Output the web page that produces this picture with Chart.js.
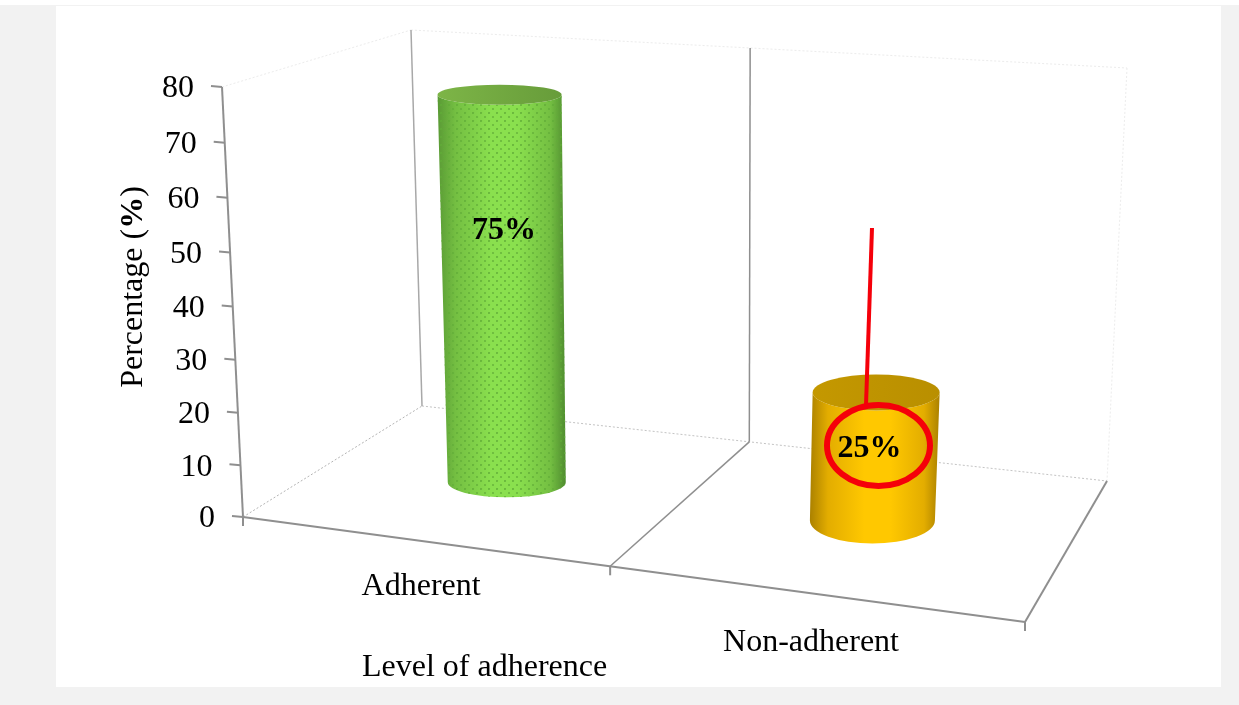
<!DOCTYPE html>
<html lang="en">
<head>
<meta charset="UTF-8">
<title>Level of adherence</title>
<script src="https://cdn.jsdelivr.net/npm/chart.js@4"></script>
<style>
  html, body { margin: 0; padding: 0; background: #fff; }
  canvas { display: block; }
</style>
</head>
<body>
<canvas id="chart" width="1239" height="705"></canvas>
<script>
'use strict';

// ---- data ----
const categories = ['Adherent', 'Non-adherent'];
const percentages = [75, 25];
const yMin = 0;
const yMax = 80;
const yStep = 10;
const xTitle = 'Level of adherence';

// ---- look ----
const FONT = '"Liberation Serif", "Times New Roman", serif';
const FONT_SIZE = 32;
const AXIS_GREY = '#8f8f8f';

// Corners of the 3D box on the canvas (f = front, b = back, l/r, bottom/top)
const BOX = {
  flb: [243, 517], frb: [1025, 622], blb: [422, 406], brb: [1107, 481],
  flt: [222, 87],  frt: [1055, 102], blt: [411, 30],  brt: [1127, 68]
};

// Per bar drawing style: depth in the box, nudges, radii of the ellipses
const CYL = [
  { depth: 0.5,  dx: 5,  dyTop: 3, rxTop: 62,   ryTop: 10, rxBase: 59,   ryBase: 15, labelAt: 0.652, labelDx: 2,
    side: ['#5a9a35', '#74bf42', '#8ae04e', '#8ae04e', '#74bf42', '#4f8c2f'], capL: '#7db547', capR: '#679c3a', dots: '#62ad38' },
  { depth: 0.55, dx: -1, dyTop: 7, rxTop: 63.5, ryTop: 18, rxBase: 62.5, ryBase: 23, labelAt: 0.556, labelDx: -5,
    side: ['#ab8100', '#e3ad00', '#ffc800', '#ffc800', '#e3ad00', '#ab8100'], capL: '#c49800', capR: '#b98f00', dots: null }
];

function lerp(a, b, t) { return a + (b - a) * t; }
function mix(p, q, t) { return [lerp(p[0], q[0], t), lerp(p[1], q[1], t)]; }

// slight perspective squeeze along an axis
function warp(t, a) { return a * t / (1 + (a - 1) * t); }

// u: along the x axis, v: up the value axis, w: into the box (all 0..1)
function project(u, v, w) {
  const uu = warp(u, lerp(0.885, 0.915, w) - 0.015 * v * w);
  const vv = warp(v, 0.96);
  const bottom = mix(mix(BOX.flb, BOX.frb, uu), mix(BOX.blb, BOX.brb, uu), w);
  const top = mix(mix(BOX.flt, BOX.frt, uu), mix(BOX.blt, BOX.brt, uu), w);
  return mix(bottom, top, vv);
}

function line(ctx, a, b, color, width, dash) {
  ctx.save();
  ctx.strokeStyle = color;
  ctx.lineWidth = width;
  ctx.setLineDash(dash || []);
  ctx.beginPath();
  ctx.moveTo(a[0], a[1]);
  ctx.lineTo(b[0], b[1]);
  ctx.stroke();
  ctx.restore();
}

function dotPattern(ctx, color) {
  const c = document.createElement('canvas');
  c.width = 8;
  c.height = 8;
  const g = c.getContext('2d');
  g.fillStyle = color;
  g.globalAlpha = 0.8;
  [[1, 1], [5, 5]].forEach(p => {
    g.beginPath();
    g.arc(p[0], p[1], 1.1, 0, Math.PI * 2);
    g.fill();
  });
  return ctx.createPattern(c, 'repeat');
}

// ---- background panel, walls and floor ----
const boxPlugin = {
  id: 'box3d',
  beforeDatasetsDraw(chart) {
    const ctx = chart.ctx;
    const W = chart.width;
    const H = chart.height;
    ctx.save();
    ctx.fillStyle = '#f2f2f2';
    ctx.fillRect(0, 5, W, H - 5);
    ctx.fillStyle = '#ffffff';
    ctx.fillRect(56, 6, 1165, 681);
    ctx.restore();

    const faint = '#ececec';
    const dot = [2, 2];
    // top edges and far right post are barely visible
    line(ctx, project(0, 1, 0), project(0, 1, 1), faint, 1, dot);
    line(ctx, project(0, 1, 1), project(1, 1, 1), faint, 1, dot);
    line(ctx, project(1, 1, 1), project(1, 0, 1), faint, 1, dot);
    // back floor line and left floor edge
    line(ctx, project(0, 0, 1), project(1, 0, 1), '#c4c4c4', 1, dot);
    line(ctx, project(0, 0, 0), project(0, 0, 1), '#b4b4b4', 1, dot);
    // back wall posts
    line(ctx, project(0, 0, 1), project(0, 1, 1), '#a8a8a8', 1.5);
    line(ctx, project(0.5, 0, 1), project(0.5, 1, 1), '#8f8f8f', 1.5);
    // floor
    line(ctx, project(0.5, 0, 0), project(0.5, 0, 1), AXIS_GREY, 1.5);
    line(ctx, project(1, 0, 0), project(1, 0, 1), AXIS_GREY, 2);
    line(ctx, project(0, 0, 0), project(1, 0, 0), AXIS_GREY, 2);
    // value axis
    line(ctx, project(0, 0, 0), project(0, 1, 0), AXIS_GREY, 2);

    // axis ticks and their labels come from the chart's own scale
    const yScale = chart.scales.y;
    ctx.save();
    ctx.font = FONT_SIZE + 'px ' + FONT;
    ctx.fillStyle = '#000';
    ctx.textAlign = 'right';
    ctx.textBaseline = 'middle';
    yScale.ticks.forEach(t => {
      const v = (yScale.bottom - yScale.getPixelForValue(t.value)) / yScale.height;
      const p = project(0, v, 0);
      line(ctx, [p[0] - 11, p[1] - 1], p, AXIS_GREY, 2);
      ctx.fillText(t.label, p[0] - 28, p[1] + 2);
    });
    ctx.restore();

    [0, 0.5, 1].forEach(u => {
      const p = project(u, 0, 0);
      line(ctx, p, [p[0], p[1] + 9], AXIS_GREY, 2);
    });
  }
};

// ---- cylinders, drawn from the bar elements Chart.js laid out ----
const cylinderPlugin = {
  id: 'cylinders',
  afterDatasetsDraw(chart) {
    const ctx = chart.ctx;
    const xScale = chart.scales.x;
    const yScale = chart.scales.y;
    const bars = chart.getDatasetMeta(0).data;

    bars.forEach((bar, i) => {
      const st = CYL[i];
      const u = (bar.x - xScale.left) / xScale.width;
      const v = (yScale.bottom - bar.y) / yScale.height;
      const base = project(u, 0, st.depth);
      const top = project(u, v, st.depth);
      base[0] += st.dx;
      top[0] += st.dx;
      top[1] += st.dyTop;

      const left = Math.min(base[0] - st.rxBase, top[0] - st.rxTop);
      const right = Math.max(base[0] + st.rxBase, top[0] + st.rxTop);
      const grad = ctx.createLinearGradient(left, 0, right, 0);
      [0, 0.14, 0.42, 0.62, 0.88, 1].forEach((s, k) => grad.addColorStop(s, st.side[k]));

      const body = () => {
        ctx.beginPath();
        ctx.moveTo(top[0] - st.rxTop, top[1]);
        ctx.lineTo(base[0] - st.rxBase, base[1]);
        ctx.ellipse(base[0], base[1], st.rxBase, st.ryBase, 0, Math.PI, 0, true);
        ctx.lineTo(top[0] + st.rxTop, top[1]);
        ctx.ellipse(top[0], top[1], st.rxTop, st.ryTop, 0, 0, Math.PI, false);
        ctx.closePath();
      };

      ctx.save();
      body();
      ctx.fillStyle = grad;
      ctx.fill();
      if (st.dots) {
        ctx.fillStyle = dotPattern(ctx, st.dots);
        ctx.fill();
      }
      const capGrad = ctx.createLinearGradient(top[0] - st.rxTop, 0, top[0] + st.rxTop, 0);
      capGrad.addColorStop(0, st.capL);
      capGrad.addColorStop(1, st.capR);
      ctx.beginPath();
      ctx.ellipse(top[0], top[1], st.rxTop, st.ryTop, 0, 0, Math.PI * 2);
      ctx.fillStyle = capGrad;
      ctx.fill();
      ctx.restore();
    });
  }
};

// ---- texts and the hand drawn red marker ----
const textPlugin = {
  id: 'texts',
  afterDraw(chart) {
    const ctx = chart.ctx;
    const xScale = chart.scales.x;
    const yScale = chart.scales.y;
    const bars = chart.getDatasetMeta(0).data;

    // red marker on the second bar
    ctx.save();
    ctx.strokeStyle = '#f5000a';
    ctx.lineWidth = 4;
    ctx.beginPath();
    ctx.moveTo(872, 228);
    ctx.lineTo(866, 405);
    ctx.stroke();
    ctx.lineWidth = 6;
    ctx.beginPath();
    ctx.ellipse(878.5, 445.5, 51.5, 40.5, 0, 0, Math.PI * 2);
    ctx.stroke();
    ctx.restore();

    ctx.save();
    ctx.fillStyle = '#000';
    ctx.textBaseline = 'middle';
    ctx.textAlign = 'center';

    // value labels
    ctx.font = 'bold ' + FONT_SIZE + 'px ' + FONT;
    bars.forEach((bar, i) => {
      const st = CYL[i];
      const u = (bar.x - xScale.left) / xScale.width;
      const v = (yScale.bottom - bar.y) / yScale.height;
      const base = project(u, 0, st.depth);
      const top = project(u, v, st.depth);
      const p = mix(base, top, st.labelAt);
      ctx.fillText(percentages[i] + '%', p[0] + st.dx + st.labelDx, p[1] + 3);
    });

    // category labels hang under the front edge
    ctx.font = FONT_SIZE + 'px ' + FONT;
    bars.forEach((bar, i) => {
      const u = (bar.x - xScale.left) / xScale.width;
      const p = project(u, 0, 0);
      ctx.fillText(categories[i], p[0], p[1] + 46 + i * 3);
    });

    // axis titles
    ctx.textAlign = 'left';
    ctx.fillText(xTitle, 362, 668);

    ctx.translate(134, 287);
    ctx.rotate(-Math.PI / 2);
    const plain = 'Percentage (';
    const bold = '%';
    const end = ')';
    ctx.font = FONT_SIZE + 'px ' + FONT;
    const w1 = ctx.measureText(plain).width;
    const w3 = ctx.measureText(end).width;
    ctx.font = 'bold ' + FONT_SIZE + 'px ' + FONT;
    const w2 = ctx.measureText(bold).width;
    let x = -(w1 + w2 + w3) / 2;
    ctx.font = FONT_SIZE + 'px ' + FONT;
    ctx.fillText(plain, x, 0);
    x += w1;
    ctx.font = 'bold ' + FONT_SIZE + 'px ' + FONT;
    ctx.fillText(bold, x, 0);
    x += w2;
    ctx.font = FONT_SIZE + 'px ' + FONT;
    ctx.fillText(end, x, 0);
    ctx.restore();
  }
};

new Chart(document.getElementById('chart'), {
  type: 'bar',
  data: {
    labels: categories,
    datasets: [{
      label: 'Percentage (%)',
      data: percentages,
      backgroundColor: 'transparent',
      borderWidth: 0
    }]
  },
  options: {
    responsive: false,
    animation: false,
    layout: { padding: { top: 87, bottom: 188, left: 243, right: 214 } },
    plugins: {
      legend: { display: false },
      tooltip: { enabled: false },
      title: { display: false }
    },
    scales: {
      x: {
        display: true,
        grid: { display: false },
        border: { display: false },
        ticks: { display: false }
      },
      y: {
        display: true,
        min: yMin,
        max: yMax,
        grid: { display: false },
        border: { display: false },
        ticks: { display: false, stepSize: yStep }
      }
    }
  },
  plugins: [boxPlugin, cylinderPlugin, textPlugin]
});
</script>
</body>
</html>
